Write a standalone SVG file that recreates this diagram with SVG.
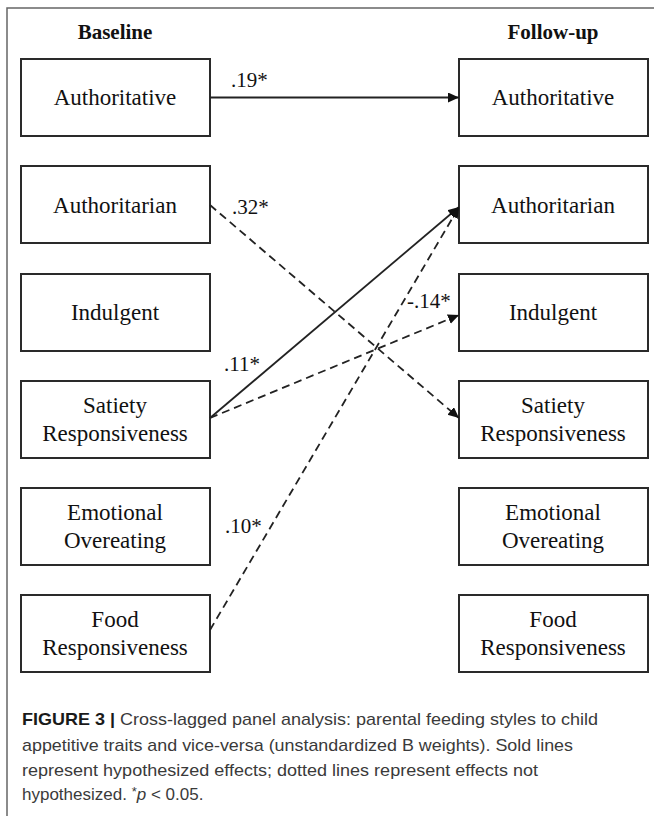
<svg xmlns="http://www.w3.org/2000/svg" width="654" height="816" viewBox="0 0 654 816">
<style>
.box{fill:#fff;stroke:#2a2a2a;stroke-width:2}
.lbl{font-family:"Liberation Serif","Times New Roman",serif;font-size:23px;fill:#111;text-anchor:middle}
.hdr{font-family:"Liberation Serif","Times New Roman",serif;font-size:21px;font-weight:bold;fill:#111;text-anchor:middle}
.num{font-family:"Liberation Serif","Times New Roman",serif;font-size:21px;fill:#111}
.ln{fill:none;stroke:#222;stroke-width:1.8}
.dash{stroke-dasharray:8 5}
.cap{font-family:"Liberation Sans",Arial,sans-serif;font-size:17px;fill:#3a3a3a}
</style>
<defs>
<marker id="ah" markerUnits="userSpaceOnUse" markerWidth="12" markerHeight="11" refX="11" refY="5" orient="auto">
<path d="M0,0 L11,5 L0,10 z" fill="#111"/>
</marker>
</defs>
<rect width="654" height="816" fill="#fff"/>
<path d="M7,816 L7,8 L654,8" fill="none" stroke="#666" stroke-width="1.5"/>
<text class="hdr" x="115" y="39">Baseline</text>
<text class="hdr" x="553" y="39">Follow-up</text>

<g id="b-authoritative"><rect class="box" x="21" y="59" width="189" height="77"/><text class="lbl" x="115" y="105">Authoritative</text></g>
<g id="b-authoritarian"><rect class="box" x="21" y="166" width="189" height="77"/><text class="lbl" x="115" y="213">Authoritarian</text></g>
<g id="b-indulgent"><rect class="box" x="21" y="274" width="189" height="77"/><text class="lbl" x="115" y="320">Indulgent</text></g>
<g id="b-satiety"><rect class="box" x="21" y="381" width="189" height="77"/><text class="lbl" x="115" y="413">Satiety</text><text class="lbl" x="115" y="441">Responsiveness</text></g>
<g id="b-emotional"><rect class="box" x="21" y="488" width="189" height="77"/><text class="lbl" x="115" y="520">Emotional</text><text class="lbl" x="115" y="548">Overeating</text></g>
<g id="b-food"><rect class="box" x="21" y="595" width="189" height="77"/><text class="lbl" x="115" y="627">Food</text><text class="lbl" x="115" y="655">Responsiveness</text></g>

<g id="f-authoritative"><rect class="box" x="459" y="59" width="189" height="77"/><text class="lbl" x="553" y="105">Authoritative</text></g>
<g id="f-authoritarian"><rect class="box" x="459" y="166" width="189" height="77"/><text class="lbl" x="553" y="213">Authoritarian</text></g>
<g id="f-indulgent"><rect class="box" x="459" y="274" width="189" height="77"/><text class="lbl" x="553" y="320">Indulgent</text></g>
<g id="f-satiety"><rect class="box" x="459" y="381" width="189" height="77"/><text class="lbl" x="553" y="413">Satiety</text><text class="lbl" x="553" y="441">Responsiveness</text></g>
<g id="f-emotional"><rect class="box" x="459" y="488" width="189" height="77"/><text class="lbl" x="553" y="520">Emotional</text><text class="lbl" x="553" y="548">Overeating</text></g>
<g id="f-food"><rect class="box" x="459" y="595" width="189" height="77"/><text class="lbl" x="553" y="627">Food</text><text class="lbl" x="553" y="655">Responsiveness</text></g>

<g id="connectors">
<line class="ln" x1="210" y1="97.5" x2="459" y2="97.5" marker-end="url(#ah)"/>
<line class="ln dash" x1="210" y1="205" x2="459" y2="418" marker-end="url(#ah)"/>
<line class="ln" x1="210" y1="418" x2="459" y2="207" marker-end="url(#ah)"/>
<line class="ln dash" x1="210" y1="418" x2="459" y2="315" marker-end="url(#ah)"/>
<line class="ln dash" x1="210" y1="630" x2="459" y2="207" marker-end="url(#ah)"/>
<text class="num" x="231" y="87">.19*</text>
<text class="num" x="232" y="214">.32*</text>
<text class="num" x="224" y="371">.11*</text>
<text class="num" x="407" y="308">-.14*</text>
<text class="num" x="225" y="533">.10*</text>
</g>

<g id="caption">
<text class="cap" x="22" y="725" textLength="576" lengthAdjust="spacingAndGlyphs"><tspan font-weight="bold" fill="#1a1a1a">FIGURE 3 |</tspan> Cross-lagged panel analysis: parental feeding styles to child</text>
<text class="cap" x="22" y="751" textLength="551" lengthAdjust="spacingAndGlyphs">appetitive traits and vice-versa (unstandardized B weights). Sold lines</text>
<text class="cap" x="22" y="776" textLength="516" lengthAdjust="spacingAndGlyphs">represent hypothesized effects; dotted lines represent effects not</text>
<text class="cap" x="22" y="800">hypothesized. <tspan font-size="13" dy="-4">*</tspan><tspan font-style="italic" dy="4">p</tspan> &lt; 0.05.</text>
</g>
</svg>
